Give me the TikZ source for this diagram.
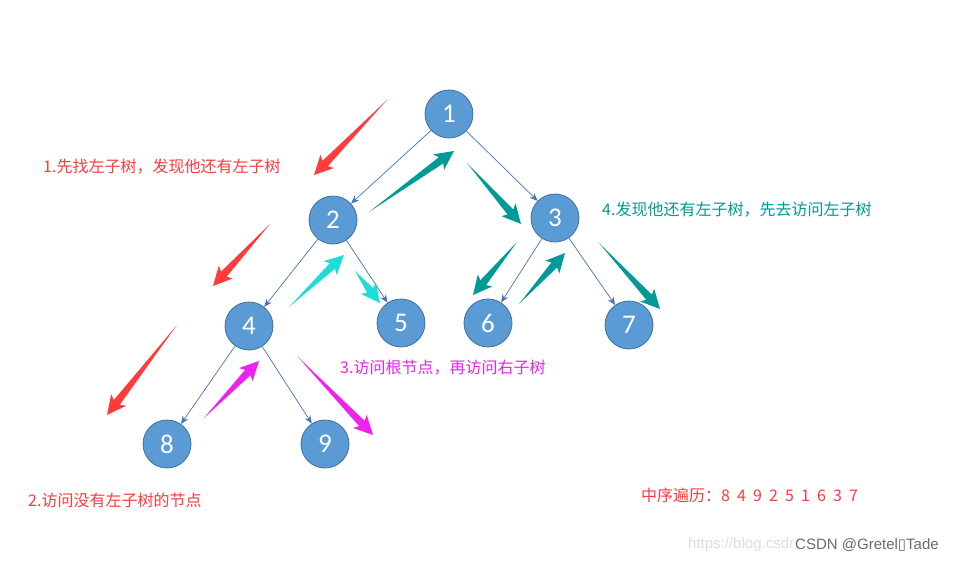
\documentclass[tikz,border=0pt]{standalone}
\usepackage{fontspec}
\setmainfont{Liberation Sans}
\newfontfamily\cjk{Noto Sans CJK SC}
\newfontfamily\numfont{Carlito}
\newfontfamily\djv{DejaVu Sans}
\usetikzlibrary{calc,arrows.meta}
\definecolor{nodefill}{HTML}{5B9BD5}
\definecolor{nodeline}{HTML}{41719C}
\definecolor{edgeblue}{HTML}{4472C4}
\definecolor{cred}{HTML}{FF3B3B}
\definecolor{cteal}{HTML}{009B96}
\definecolor{ccyan}{HTML}{1EDDD6}
\definecolor{cmag}{HTML}{EE22EE}
\newcommand\tarrow[3]{%
  \coordinate (tarS) at (#1);
  \coordinate (tarE) at (#2);
  \coordinate (tarJ) at ($(tarE)!16pt!(tarS)$);
  \coordinate (tarB) at ($(tarE)!19pt!(tarS)$);
  \fill[#3] (tarS) -- ($(tarJ)!3.8pt!90:(tarE)$) -- ($(tarB)!9.5pt!90:(tarE)$) -- (tarE)
    -- ($(tarB)!9.5pt!-90:(tarE)$) -- ($(tarJ)!3.8pt!-90:(tarE)$) -- cycle;}
\newcommand\dg[1]{\makebox[1em][l]{#1}}
\tikzset{
  tnode/.style={circle, minimum size=48pt, inner sep=0pt, fill=nodefill, draw=nodeline,
    line width=0.8pt, text=white, font=\numfont\fontsize{27}{27}\selectfont},
  edge/.style={draw=edgeblue, line width=0.7pt, -{Stealth[length=8pt,width=6.5pt]}},
  lbl/.style={anchor=west, inner sep=0pt, font=\cjk\fontsize{16}{19}\selectfont},
}
\begin{document}
\begin{tikzpicture}[x=1pt,y=-1pt]
\useasboundingbox[fill=white] (0,0) rectangle (957,562);
% tree nodes
\node[tnode] (n1) at (449,114) {1};
\node[tnode] (n2) at (333,220) {2};
\node[tnode] (n3) at (555,218) {3};
\node[tnode] (n4) at (249,326) {4};
\node[tnode] (n5) at (401,323) {5};
\node[tnode] (n6) at (488,323) {6};
\node[tnode] (n7) at (629,325) {7};
\node[tnode] (n8) at (167,444) {8};
\node[tnode] (n9) at (325,444) {9};
% edges
\draw[edge] (n1) -- (n2);
\draw[edge] (n1) -- (n3);
\draw[edge] (n2) -- (n4);
\draw[edge] (n2) -- (n5);
\draw[edge] (n3) -- (n6);
\draw[edge] (n3) -- (n7);
\draw[edge] (n4) -- (n8);
\draw[edge] (n4) -- (n9);
% red arrows
\tarrow{387,100}{314,175}{cred}
\tarrow{270,224}{213,286}{cred}
\tarrow{177,325}{107,415}{cred}
% teal arrows
\tarrow{369,212}{454,151}{cteal}
\tarrow{467,163}{521,224}{cteal}
\tarrow{517,242}{473,295}{cteal}
\tarrow{519,304}{565,253}{cteal}
\tarrow{599,243}{660,309}{cteal}
% cyan arrows
\tarrow{289,307}{344,255}{ccyan}
\tarrow{355,271}{380,303}{ccyan}
% magenta arrows
\tarrow{204,418}{259,361}{cmag}
\tarrow{298,357}{373,435}{cmag}
% labels
\node[lbl, text=cred] (t1) at (43,167) {1.先找左子树，发现他还有左子树};
\node[lbl, text=cteal] (t4) at (602,210) {4.发现他还有左子树，先去访问左子树};
\node[lbl, text=cmag] (t3) at (340,368) {3.访问根节点，再访问右子树};
\node[lbl, text=cred] (t2) at (28,500) {2.访问没有左子树的节点};
\node[lbl, text=cred] (t5) at (641,495) {中序遍历：\dg{8}\dg{4}\dg{9}\dg{2}\dg{5}\dg{1}\dg{6}\dg{3}\dg{7}};
% watermark
\node[anchor=west, inner sep=0pt, text=black!13, font=\fontsize{15}{18}\selectfont] (w1) at (688,545) {https://blog.csdn.net/qq\_43541992};
\node[anchor=west, inner sep=1pt, fill=white, text=black!58, font=\fontsize{15}{18}\selectfont] (w2) at (794,545) {CSDN @Gretel{\djv ▯}Tade};
\end{tikzpicture}
\end{document}
